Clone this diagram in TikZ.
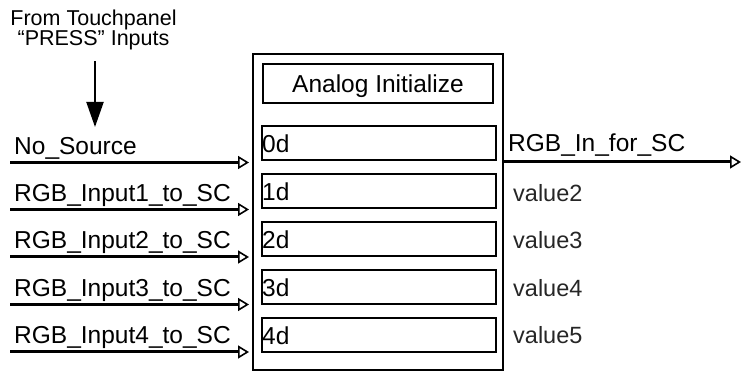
\documentclass[tikz,border=0pt]{standalone}
\usepackage{fontspec}
\setmainfont{Liberation Sans}
\usetikzlibrary{arrows.meta}
\begin{document}
\begin{tikzpicture}[x=1pt,y=-1pt,
  box/.style={draw, line width=2pt, inner sep=0pt},
  wire/.style={line width=3pt, -{Triangle[open,length=11pt,width=13pt,line width=1.6pt]}},
  sig/.style={font=\fontsize{24.5}{28}\selectfont, inner sep=0pt, anchor=base west},
  val/.style={font=\fontsize{23.5}{26}\selectfont, text=black!85, inner sep=0pt, anchor=base west},
  note/.style={font=\fontsize{21.5}{20}\selectfont, align=center, inner sep=0pt}]
\useasboundingbox (0,0) rectangle (742,371);

% module body and its title
\node[box, minimum width=250pt, minimum height=316pt, anchor=north west] (blk) at (252,53) {};
\node[box, minimum width=230pt, minimum height=39pt, anchor=north west] (title) at (262,63) {};
\node[sig, anchor=base] at (title.center |- 0,93) {Analog Initialize};

% parameter fields
\foreach \i/\y in {0/161,1/209,2/257,3/305,4/353} {
  \node[box, minimum width=234pt, minimum height=34pt, anchor=south west] (f\i) at (261,\y) {};
  \node[sig] at (262,\y-8) {\i d};
}

% input signals
\foreach \i/\y/\t in {0/162.5/No\_Source,
                       1/209.5/RGB\_Input1\_to\_SC,
                       2/257/RGB\_Input2\_to\_SC,
                       3/304.5/RGB\_Input3\_to\_SC,
                       4/352/RGB\_Input4\_to\_SC} {
  \coordinate (s\i) at (10,\y);
  \node[sig] (n\i) at (14,\y-8) {\t};
  \draw[wire, shorten >=3pt] (s\i) -- (blk.west |- s\i);
}

% output signal
\coordinate (o) at (741,162);
\node[sig] (out) at (508,152) {RGB\_In\_for\_SC};
\draw[wire] (blk.east |- o) -- (o);

% output values
\foreach \k/\y in {2/202,3/249,4/297,5/344}
  \node[val] (v\k) at (513,\y) {value\k};

% annotation
\node[note, anchor=north] (src) at (93.5,10) {From Touchpanel\\“PRESS” Inputs};
\coordinate (tip) at (95,127);
\draw[line width=2pt, -{Triangle[length=25pt,width=17pt]}, shorten <=11pt] (src.south -| tip) -- (tip);
\end{tikzpicture}
\end{document}
